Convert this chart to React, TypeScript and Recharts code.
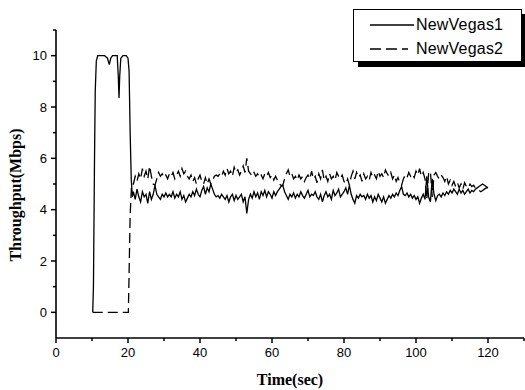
import { LineChart, Line, XAxis, YAxis, Legend, Label } from "recharts";

// time axis (sec) and throughput axis (Mbps)
const xTicks = [0, 10, 20, 30, 40, 50, 60, 70, 80, 90, 100, 110, 120, 130];
const yTicks = [0, 1, 2, 3, 4, 5, 6, 7, 8, 9, 10, 11];

// start-up phase
const vegas1StartTime = [10.2, 10.4, 10.7, 10.9, 11.2, 11.6, 12.5, 13.5, 14.3, 14.8, 15.2, 15.7, 16.5, 17.0, 17.3, 17.5, 17.7, 18.0, 18.6, 19.5, 20.0, 20.3, 20.6, 20.9, 21.2];
const vegas1StartRate = [0, 1.0, 6.0, 8.6, 9.8, 10.0, 10.0, 10.0, 9.9, 9.65, 9.9, 10.0, 10.0, 10.0, 9.2, 8.35, 9.2, 9.9, 10.0, 10.0, 9.9, 9.4, 7.0, 5.2, 4.5];
const vegas2StartTime = [10.2, 20.1, 20.3, 20.6, 21.0];
const vegas2StartRate = [0, 0, 1.5, 3.8, 5.0];

// steady phase, sampled every 0.5 s from 21.5 s to 120 s
const steadyFrom = 21.5;
const steadyStep = 0.5;
const vegas1Steady = [
  4.7, 4.4, 4.8, 4.5, 4.3, 4.7, 4.5, 4.6, 4.25, 4.7, 4.4, 4.6, 4.95, 4.6, 4.5, 4.4, 4.6, 4.5, 4.65, 4.5,
  4.6, 4.5, 4.7, 4.45, 4.6, 4.5, 4.7, 4.4, 4.55, 4.3, 4.45, 4.6, 4.5, 4.7, 4.55, 4.8, 4.6, 4.5, 4.75, 4.9,
  4.6, 4.85, 4.7, 5.0, 4.8, 4.6, 4.5, 4.55, 4.45, 4.6, 4.5, 4.4, 4.55, 4.3, 4.5, 4.6, 4.35, 4.55, 4.4, 4.5,
  4.6, 4.3, 4.5, 3.85, 4.4, 4.6, 4.45, 4.7, 4.5, 4.65, 4.4, 4.7, 4.55, 4.75, 4.5, 4.7, 4.6, 4.45, 4.7, 4.55,
  4.7, 4.8, 4.9, 4.95, 4.7, 4.55, 4.4, 4.6, 4.5, 4.65, 4.45, 4.6, 4.5, 4.7, 4.55, 4.45, 4.6, 4.75, 4.5, 4.6,
  4.55, 4.7, 4.5, 4.4, 4.6, 4.3, 4.55, 4.7, 4.5, 4.6, 4.4, 4.75, 4.55, 4.65, 4.8, 4.5, 4.6, 4.7, 4.85, 4.6,
  4.95, 4.6, 4.4, 4.25, 4.55, 4.45, 4.6, 4.5, 4.55, 4.4, 4.6, 4.45, 4.55, 4.3, 4.5, 4.35, 4.6, 4.45, 4.3, 4.5,
  4.25, 4.4, 4.55, 4.45, 4.6, 4.5, 4.65, 4.55, 4.75, 4.9, 4.6, 4.55, 4.65, 4.5, 4.6, 4.45, 4.55, 4.4, 4.5, 4.25,
  4.45, 4.6, 4.4, 5.3, 4.5, 4.3, 5.2, 4.6, 4.35, 4.55, 4.6, 4.5, 4.65, 4.55, 4.7, 4.6, 4.75, 4.65, 4.8, 4.7,
  4.6, 4.8, 4.65, 4.75, 4.6, 4.7, 4.8, 4.65, 4.75, 4.7, 4.8, 4.85, 4.9, 4.95, 5.0, 4.95, 4.9, 4.85,
];
const vegas2Steady = [
  5.0, 5.3, 5.1, 5.4, 5.2, 5.6, 5.3, 5.5, 5.2, 5.7, 5.3, 5.0, 4.95, 5.2, 5.45, 5.3, 5.4, 5.25, 5.35, 5.2,
  5.4, 5.3, 5.45, 5.2, 5.35, 5.5, 5.3, 5.6, 5.4, 5.5, 5.3, 5.2, 5.35, 5.1, 5.25, 5.0, 5.2, 5.35, 5.1, 5.0,
  5.25, 5.0, 5.2, 5.0, 5.15, 5.3, 5.35, 5.3, 5.4, 5.3, 5.5, 5.35, 5.6, 5.4, 5.5, 5.3, 5.65, 5.45, 5.55, 5.35,
  5.5, 5.7, 5.45, 6.0, 5.5, 5.4, 5.3, 5.45, 5.3, 5.4, 5.25, 5.35, 5.2, 5.4, 5.3, 5.45, 5.25, 5.35, 5.15, 5.3,
  5.15, 5.0, 4.95, 4.95, 5.2, 5.4, 5.55, 5.3, 5.4, 5.2, 5.3, 5.15, 5.35, 5.2, 5.3, 5.1, 5.25, 5.35, 5.2, 5.5,
  5.2, 5.3, 5.05, 5.4, 5.2, 5.55, 5.15, 5.3, 5.1, 5.4, 5.2, 5.3, 5.15, 5.45, 5.3, 5.2, 5.35, 5.1, 5.0, 5.2,
  4.95, 5.3, 5.5, 5.2, 5.45, 5.25, 5.35, 5.1, 5.4, 5.2, 5.3, 5.15, 5.45, 5.25, 5.35, 5.2, 5.5, 5.3, 5.4, 5.25,
  5.55, 5.4, 5.3, 5.45, 5.2, 5.35, 5.1, 5.25, 5.05, 4.95, 5.2, 5.35, 5.25, 5.45, 5.3, 5.4, 5.25, 5.5, 5.35, 5.6,
  5.3, 5.45, 5.2, 4.4, 5.4, 5.5, 4.5, 5.35, 5.45, 5.3, 5.2, 5.35, 5.25, 5.1, 5.3, 5.0, 5.15, 4.95, 5.1, 4.9,
  5.05, 4.85, 5.0, 4.8, 5.05, 4.9, 4.85, 5.0, 4.9, 4.95, 4.85, 4.8, 4.75, 4.7, 4.75, 4.8, 4.85, 4.85,
];

const toPoints = (times: number[], rates: number[], steady: number[]) => [
  ...times.map((t, i) => ({ t, v: rates[i] })),
  ...steady.map((v, i) => ({ t: steadyFrom + i * steadyStep, v })),
];

const vegas1 = toPoints(vegas1StartTime, vegas1StartRate, vegas1Steady);
const vegas2 = toPoints(vegas2StartTime, vegas2StartRate, vegas2Steady);

const sans = "'Liberation Sans', Arial, sans-serif";
const serif = "'Liberation Serif', 'Times New Roman', serif";

const XTick = ({ x, y, payload }: any) => {
  const major = payload.value % 20 === 0;
  return (
    <g>
      <line x1={x} x2={x} y1={y} y2={y + (major ? 5 : 3)} stroke="#000" strokeWidth={1.5} />
      {major && (
        <text x={x} y={y + 19} textAnchor="middle" fontFamily={sans} fontSize={13} fill="#000">
          {payload.value}
        </text>
      )}
    </g>
  );
};

const YTick = ({ x, y, payload }: any) => {
  const major = payload.value % 2 === 0;
  return (
    <g>
      <line x1={x - (major ? 5 : 3)} x2={x} y1={y} y2={y} stroke="#000" strokeWidth={1.5} />
      {major && (
        <text x={x - 9} y={y} dy="0.36em" textAnchor="end" fontFamily={sans} fontSize={13} fill="#000">
          {payload.value}
        </text>
      )}
    </g>
  );
};

const LegendBox = () => (
  <div
    style={{
      position: "relative",
      width: 169,
      height: 53,
      boxSizing: "border-box",
      border: "1.5px solid #000",
      boxShadow: "5px 5px 0 #000",
      background: "#fff",
      fontFamily: sans,
      fontSize: 16,
      letterSpacing: 0.2,
      color: "#000",
    }}
  >
    <svg width={60} height={53} style={{ position: "absolute", left: 0, top: 0 }}>
      <line x1={16} x2={60} y1={15} y2={15} stroke="#000" strokeWidth={1.3} />
      <line x1={16} x2={54} y1={39} y2={39} stroke="#000" strokeWidth={1.3} strokeDasharray="11 5" />
    </svg>
    <span style={{ position: "absolute", left: 62, top: 5, lineHeight: "20px" }}>NewVegas1</span>
    <span style={{ position: "absolute", left: 62, top: 29, lineHeight: "20px" }}>NewVegas2</span>
  </div>
);

export default function App() {
  return (
    <div style={{ position: "absolute", left: 0, top: 0, background: "#fff" }}>
      <LineChart width={525} height={390} margin={{ top: 30, right: 1, bottom: 0, left: 0 }}>
        <XAxis
          type="number"
          dataKey="t"
          domain={[0, 130]}
          ticks={xTicks}
          interval={0}
          allowDataOverflow
          height={52}
          tickSize={0}
          tickMargin={0}
          tickLine={false}
          axisLine={{ stroke: "#000", strokeWidth: 1.6 }}
          tick={XTick}
        >
          <Label
            content={({ viewBox }: any) => (
              <text
                x={viewBox.x + viewBox.width / 2}
                y={viewBox.y + 47}
                textAnchor="middle"
                fontFamily={serif}
                fontWeight="bold"
                fontSize={16}
                fill="#000"
              >
                Time(sec)
              </text>
            )}
          />
        </XAxis>
        <YAxis
          type="number"
          dataKey="v"
          domain={[-1, 11]}
          ticks={yTicks}
          interval={0}
          allowDataOverflow
          width={56}
          tickSize={0}
          tickMargin={0}
          tickLine={false}
          axisLine={{ stroke: "#000", strokeWidth: 1.6 }}
          tick={YTick}
        >
          <Label
            content={({ viewBox }: any) => {
              const cx = 15;
              const cy = viewBox.y + viewBox.height / 2 + 11;
              return (
                <text
                  x={cx}
                  y={cy}
                  dy="0.35em"
                  transform={`rotate(-90, ${cx}, ${cy})`}
                  textAnchor="middle"
                  fontFamily={serif}
                  fontWeight="bold"
                  fontSize={16}
                  fill="#000"
                >
                  Throughput(Mbps)
                </text>
              );
            }}
          />
        </YAxis>
        <Legend
          layout="horizontal"
          verticalAlign="middle"
          align="center"
          wrapperStyle={{ top: 9, left: 353, width: 175, height: 60 }}
          content={LegendBox}
        />
        <Line
          data={vegas1}
          dataKey="v"
          name="NewVegas1"
          type="linear"
          stroke="#000"
          strokeWidth={1.3}
          dot={false}
          activeDot={false}
          isAnimationActive={false}
        />
        <Line
          data={vegas2}
          dataKey="v"
          name="NewVegas2"
          type="linear"
          stroke="#000"
          strokeWidth={1.3}
          strokeDasharray="10 5"
          dot={false}
          activeDot={false}
          isAnimationActive={false}
        />
      </LineChart>
    </div>
  );
}
